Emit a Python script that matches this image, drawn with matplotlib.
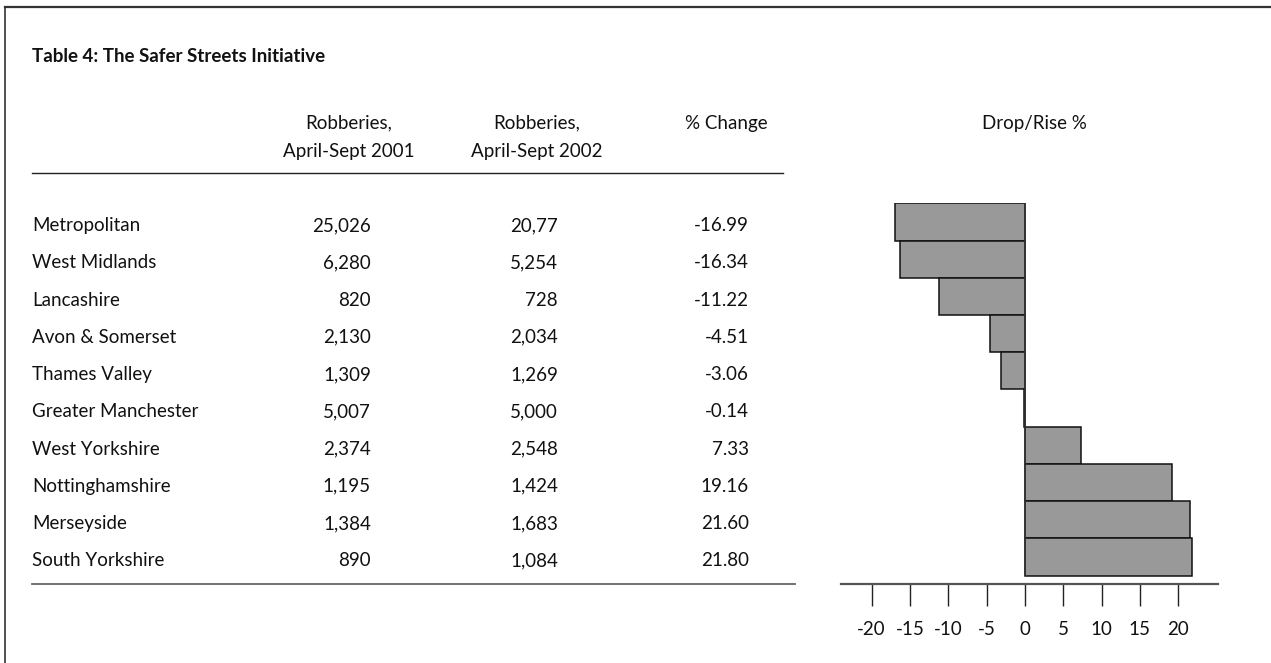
import matplotlib
matplotlib.use("Agg")
import matplotlib.pyplot as plt
import matplotlib.transforms as mtransforms
from matplotlib.lines import Line2D

plt.rcParams["font.family"] = ["Lato", "DejaVu Sans"]

# ── data ──────────────────────────────────────────────
forces = ["Metropolitan", "West Midlands", "Lancashire", "Avon & Somerset",
          "Thames Valley", "Greater Manchester", "West Yorkshire",
          "Nottinghamshire", "Merseyside", "South Yorkshire"]
robberies_2001 = ["25,026", "6,280", "820", "2,130", "1,309", "5,007",
                  "2,374", "1,195", "1,384", "890"]
robberies_2002 = ["20,77", "5,254", "728", "2,034", "1,269", "5,000",
                  "2,548", "1,424", "1,683", "1,084"]
pct_change = [-16.99, -16.34, -11.22, -4.51, -3.06, -0.14,
              7.33, 19.16, 21.60, 21.80]
tick_vals = [-20, -15, -10, -5, 0, 5, 10, 15, 20]
tick_labels = ["-20", "-15", "-10", "-5", "0", "5", "10", "15", "20"]

title = "Table 4: The Safer Streets Initiative"
head_1 = ["Robberies,", "April-Sept 2001"]
head_2 = ["Robberies,", "April-Sept 2002"]
head_3 = "% Change"
head_bar = "Drop/Rise %"

# ── layout (pixel positions in a 1271 x 663 canvas) ───
W, H = 1271, 663
TXT = "#111111"
FS = 13.5

fig = plt.figure(figsize=(W / 100, H / 100), dpi=100)


def fx(px):
    return px / W


def fy(py):
    return 1 - py / H


# bar axes: spine at y=583.7, first bar top at 203.3
ax = fig.add_axes([fx(841), fy(583.7), fx(1218) - fx(841), fy(203.3) - fy(583.7)])
n = len(forces)
ypos = list(range(n))
ax.barh(ypos, pct_change, height=1.0, color="#999999",
        edgecolor="#111111", linewidth=1.1, zorder=2)
ax.vlines(0, -0.5, n - 0.5, color="#333333", linewidth=1.1, zorder=3)
ax.set_xlim(-24.0, 25.2)
ax.set_ylim(n - 0.5 + 0.215, -0.5)

for s in ["top", "right", "left"]:
    ax.spines[s].set_visible(False)
ax.spines["bottom"].set_color("#555555")
ax.spines["bottom"].set_linewidth(1.6)
ax.set_yticks([])
ax.set_xticks(tick_vals)
ax.set_xticklabels(tick_labels)
ax.tick_params(axis="x", direction="out", length=16, width=1.0,
               color="#222222", pad=11, labelsize=FS, labelcolor=TXT)

# table text: x in figure coords, y aligned with bar rows
row_tr = mtransforms.blended_transform_factory(fig.transFigure, ax.transData)
for i in range(n):
    y = ypos[i] + 0.1
    fig.text(fx(32), y, forces[i], transform=row_tr, ha="left", va="center",
             fontsize=FS, color=TXT)
    fig.text(fx(371), y, robberies_2001[i], transform=row_tr, ha="right",
             va="center", fontsize=FS, color=TXT)
    fig.text(fx(558), y, robberies_2002[i], transform=row_tr, ha="right",
             va="center", fontsize=FS, color=TXT)
    fig.text(fx(749), y, f"{pct_change[i]:.2f}", transform=row_tr, ha="right",
             va="center", fontsize=FS, color=TXT)

# title and headers
fig.text(fx(32), fy(56), title, ha="left", va="center", fontsize=FS,
         fontweight="bold", color=TXT)
for k, (a, b) in enumerate(zip(head_1, head_2)):
    yy = fy(123 + 28 * k)
    fig.text(fx(349), yy, a, ha="center", va="center", fontsize=FS, color=TXT)
    fig.text(fx(537), yy, b, ha="center", va="center", fontsize=FS, color=TXT)
fig.text(fx(726), fy(123), head_3, ha="center", va="center", fontsize=FS, color=TXT)
fig.text(fx(1034), fy(123), head_bar, ha="center", va="center", fontsize=FS, color=TXT)

# rules
fig.add_artist(Line2D([fx(32), fx(783)], [fy(173), fy(173)],
                      color="#222222", linewidth=1.0))
fig.add_artist(Line2D([fx(32), fx(795)], [fy(583.5), fy(583.5)],
                      color="#666666", linewidth=1.3))

# frame (top and left edges)
fig.add_artist(Line2D([fx(5), 1.0], [fy(7), fy(7)], color="#333333", linewidth=1.6))
fig.add_artist(Line2D([fx(5), fx(5)], [fy(7), 0.0], color="#333333", linewidth=1.2))

fig.savefig("out.png", dpi=100, facecolor="white")
